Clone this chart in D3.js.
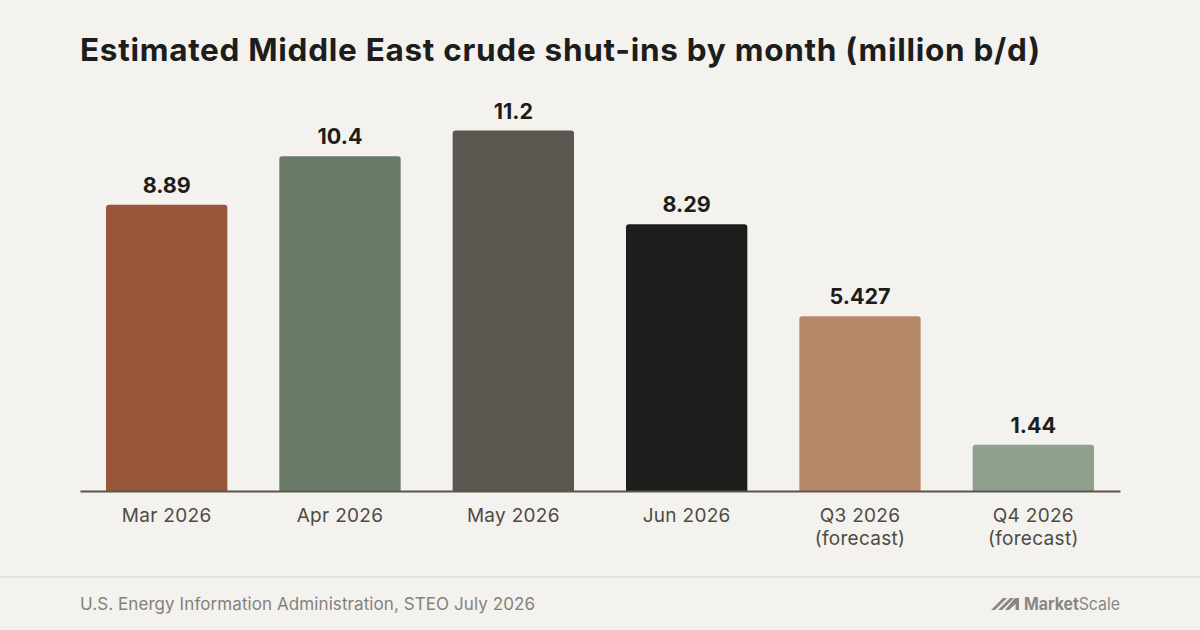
<!DOCTYPE html>
<html>
<head>
<meta charset="utf-8">
<script src="https://cdn.jsdelivr.net/npm/d3@7"></script>
<style>
  html, body { margin: 0; padding: 0; background: #f3f2ee; }
  svg { display: block; font-family: Inter, "Noto Sans", sans-serif; }
</style>
</head>
<body>
<script>
// ---------- data ----------
const categories = ["Mar 2026", "Apr 2026", "May 2026", "Jun 2026", "Q3 2026", "Q4 2026"];
const subLabels = ["", "", "", "", "(forecast)", "(forecast)"];
const values = [8.89, 10.4, 11.2, 8.29, 5.427, 1.44];
const valueLabels = ["8.89", "10.4", "11.2", "8.29", "5.427", "1.44"];
const barColors = ["#98573b", "#6a7a69", "#5b5650", "#1d1d1b", "#b6896b", "#8fa18c"];

// ---------- canvas ----------
const width = 1200, height = 630;
const svg = d3.select("body").append("svg")
    .attr("width", width)
    .attr("height", height);

svg.append("rect").attr("width", width).attr("height", height).attr("fill", "#f3f2ee");

// title (stretched a little to the width of the original face)
svg.append("text")
    .attr("x", 80).attr("y", 61)
    .attr("font-size", 31.5).attr("font-weight", 700)
    .attr("fill", "#1d1d1b")
    .attr("textLength", 960).attr("lengthAdjust", "spacing")
    .text("Estimated Middle East crude shut-ins by month (million b/d)");

// ---------- scales ----------
const baseline = 491;
const x = d3.scaleBand()
    .domain(categories)
    .range([80, 1120])
    .paddingInner(0.3)
    .paddingOuter(0.15);

const y = d3.scaleLinear()
    .domain([0, 11.2])
    .range([baseline, 130.5]);

// bars
svg.append("g").selectAll("path")
  .data(values)
  .join("path")
    .attr("fill", (d, i) => barColors[i])
    .attr("d", (d, i) => {
      const x0 = x(categories[i]), w = x.bandwidth(), y0 = y(d), r = 3;
      return `M${x0},${baseline}V${y0 + r}Q${x0},${y0} ${x0 + r},${y0}H${x0 + w - r}Q${x0 + w},${y0} ${x0 + w},${y0 + r}V${baseline}Z`;
    });

// value labels
svg.append("g").selectAll("text")
  .data(values)
  .join("text")
    .attr("x", (d, i) => x(categories[i]) + x.bandwidth() / 2)
    .attr("y", d => y(d) - 12)
    .attr("text-anchor", "middle")
    .attr("font-size", 21.5).attr("font-weight", 700)
    .attr("fill", "#1d1d1b")
    .text((d, i) => valueLabels[i]);

// axis
const xAxis = svg.append("g")
    .attr("transform", `translate(0,${baseline})`)
    .call(d3.axisBottom(x).tickSize(0).tickPadding(0));
xAxis.select(".domain").attr("stroke", "#5a554d").attr("stroke-width", 2);
xAxis.selectAll(".tick text").remove();

const tick = xAxis.selectAll(".tick");
tick.append("text")
    .attr("y", 31)
    .attr("text-anchor", "middle")
    .attr("font-size", 19).attr("fill", "#4f4a43")
    .attr("letter-spacing", 0.3)
    .attr("font-family", "Inter, sans-serif")
    .text(d => d);
tick.append("text")
    .attr("y", 54)
    .attr("text-anchor", "middle")
    .attr("font-size", 19).attr("fill", "#4f4a43")
    .attr("letter-spacing", 0.3)
    .attr("font-family", "Inter, sans-serif")
    .text((d, i) => subLabels[i]);

// ---------- footer ----------
svg.append("line")
    .attr("x1", 0).attr("x2", width)
    .attr("y1", 577).attr("y2", 577)
    .attr("stroke", "#e3e1dc").attr("stroke-width", 2);

svg.append("text")
    .attr("x", 80).attr("y", 610)
    .attr("font-size", 17).attr("fill", "#85817a")
    .attr("textLength", 455).attr("lengthAdjust", "spacing")
    .text("U.S. Energy Information Administration, STEO July 2026");

// logo
const logo = svg.append("g").attr("fill", "#8a8782");
logo.append("path")
    .attr("d", "M991,610 L1003,598 L1007,598 L995,610 Z M998,610 L1010,598 L1014,598 L1002,610 Z M1005,610 L1015,598 L1019,598 L1019,610 L1015.5,610 L1015.5,604 L1009,610 Z");
const logoText = logo.append("text")
    .attr("x", 1120).attr("y", 610)
    .attr("text-anchor", "end")
    .attr("font-size", 17)
    .attr("textLength", 96).attr("lengthAdjust", "spacingAndGlyphs");
logoText.append("tspan").attr("font-weight", 700).text("Market");
logoText.append("tspan").attr("font-weight", 400).text("Scale");
</script>
</body>
</html>
